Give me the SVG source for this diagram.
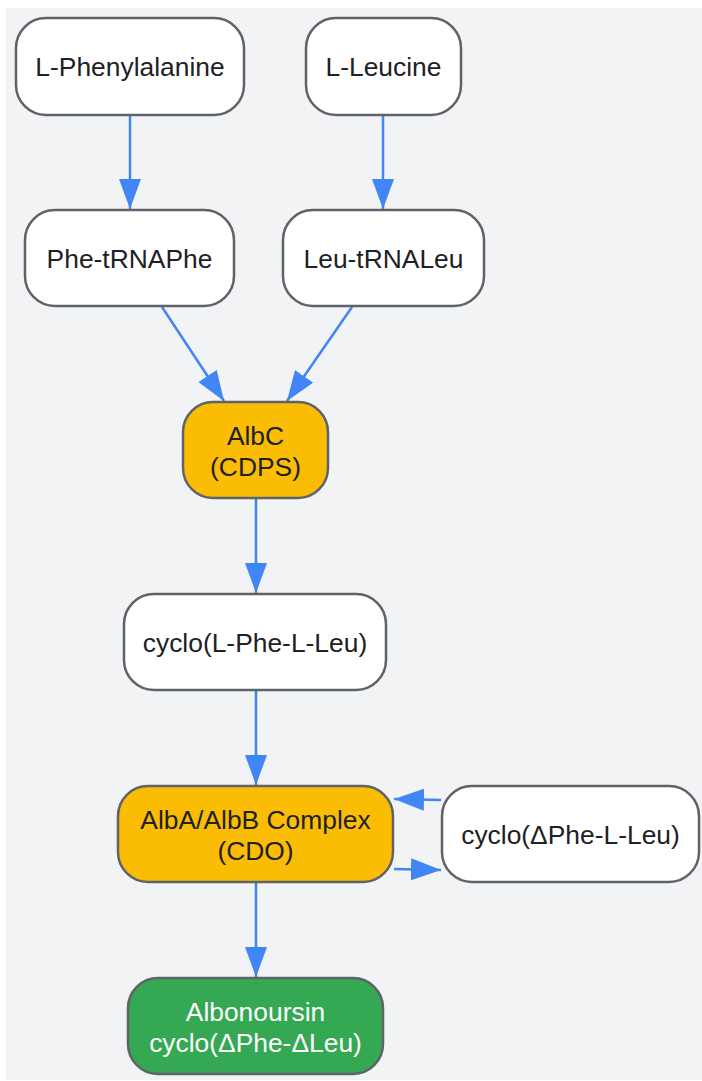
<svg xmlns="http://www.w3.org/2000/svg" width="702" height="1081" viewBox="0 0 702 1081">
<defs>
<marker id="ah" markerUnits="userSpaceOnUse" markerWidth="32" markerHeight="22" refX="30" refY="11" orient="auto">
<path d="M0,0 L30,11 L0,22 Z" fill="#4285F4"/>
</marker>
<style>
.n rect{fill:#FFFFFF;stroke:#5F6368;stroke-width:2.5}
.n.y rect{fill:#FBBC04}
.n.g rect{fill:#34A853}
.n text{font-family:"Liberation Sans",Arial,sans-serif;font-size:26.4px;fill:#202124;text-anchor:middle}
.n.g text{fill:#FFFFFF}
.c path{fill:none;stroke:#4285F4;stroke-width:2.5;marker-end:url(#ah)}
</style>
</defs>
<rect x="6" y="8" width="696" height="1072" fill="#F1F3F4"/>
<g class="c" id="connectors">
<path d="M130,116 L130,209"/>
<path d="M383,116 L383,209"/>
<path d="M162,307 L224,401"/>
<path d="M352,307 L287,401"/>
<path d="M256,499 L256,593"/>
<path d="M256,691 L256,785"/>
<path d="M256,883 L256,977"/>
<path d="M441,800 L394,799"/>
<path d="M394,869 L441,870"/>
</g>
<g class="n" id="lphe"><rect x="16" y="18" width="228" height="97" rx="30"/><text x="130" y="76">L-Phenylalanine</text></g>
<g class="n" id="lleu"><rect x="306" y="18" width="155" height="97" rx="30"/><text x="383.5" y="76">L-Leucine</text></g>
<g class="n" id="phetrna"><rect x="25" y="210" width="209" height="96" rx="30"/><text x="129.5" y="268">Phe-tRNAPhe</text></g>
<g class="n" id="leutrna"><rect x="283" y="210" width="201" height="96" rx="30"/><text x="383.5" y="268">Leu-tRNALeu</text></g>
<g class="n y" id="albc"><rect x="183" y="402" width="145" height="96" rx="30"/><text x="255.5" y="445">AlbC</text><text x="255.5" y="476">(CDPS)</text></g>
<g class="n" id="cyclo1"><rect x="124" y="594" width="262" height="96" rx="30"/><text x="255" y="652">cyclo(L-Phe-L-Leu)</text></g>
<g class="n y" id="cdo"><rect x="118" y="786" width="275" height="96" rx="30"/><text x="255.5" y="829">AlbA/AlbB Complex</text><text x="255.5" y="860">(CDO)</text></g>
<g class="n" id="cyclo2"><rect x="442" y="786" width="257" height="96" rx="30"/><text x="570.5" y="844">cyclo(ΔPhe-L-Leu)</text></g>
<g class="n g" id="albon"><rect x="128" y="978" width="255" height="96" rx="30"/><text x="255.5" y="1021">Albonoursin</text><text x="255.5" y="1052">cyclo(ΔPhe-ΔLeu)</text></g>
</svg>
